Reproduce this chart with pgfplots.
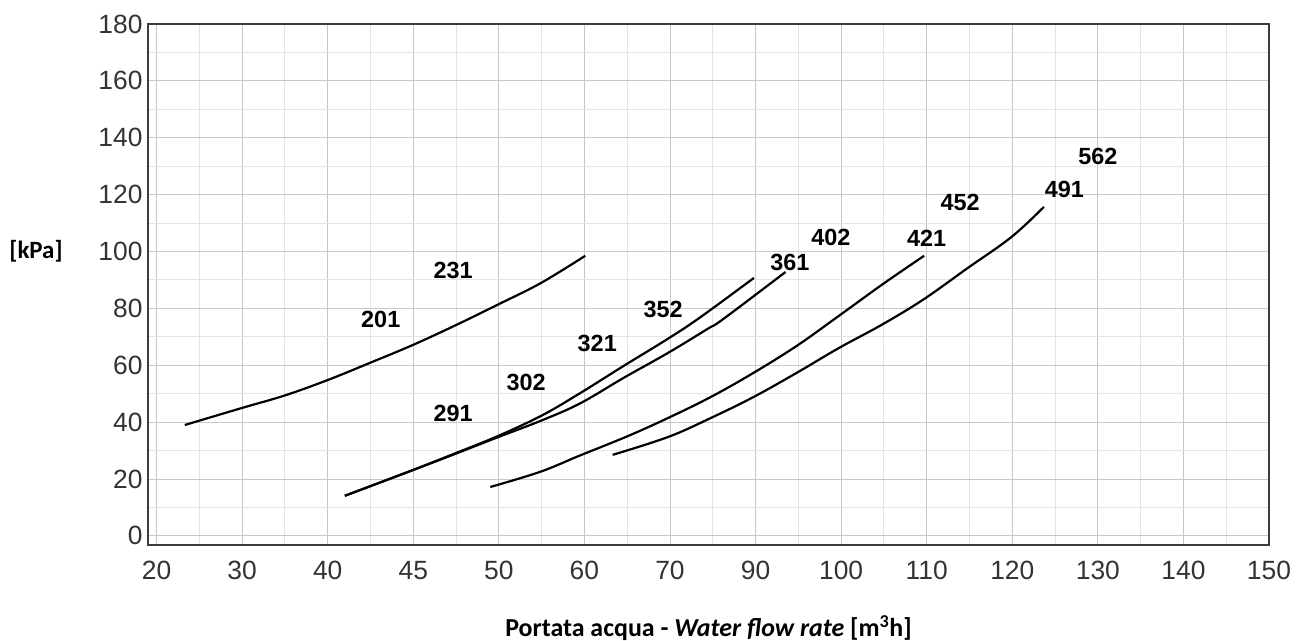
\documentclass[border=0pt]{standalone}
\usepackage{pgfplots}
\pgfplotsset{compat=1.18}
\usepackage{fontspec}
\setmainfont{Liberation Sans}
\newfontfamily\labfont{Carlito}

\definecolor{axgray}{HTML}{3C3C3C}
\definecolor{tickgray}{HTML}{333333}
\definecolor{gridmaj}{HTML}{C8C8C8}
\definecolor{gridmin}{HTML}{E4E4E4}

\pgfplotsset{curve/.style={black, line width=2.2bp, smooth, tension=0.6, mark=none}}

\begin{document}
\begin{tikzpicture}
\useasboundingbox (-148bp,-96bp) rectangle (1148bp,545bp);
\begin{axis}[
    at={(0,0)}, anchor=south west,
    scale only axis,
    width=1121bp, height=521bp,
    xmin=-0.1, xmax=13,
    ymin=-3.2, ymax=180,
    xtick={0,...,13},
    xticklabels={20,30,40,45,50,60,70,90,100,110,120,130,140,150},
    ytick={0,20,...,180},
    minor x tick num=1,
    minor y tick num=1,
    grid=both,
    major grid style={gridmaj, line width=0.9bp},
    minor grid style={gridmin, line width=0.9bp},
    major tick length=0pt, minor tick length=0pt,
    axis line style={axgray, line width=2.2bp},
    /pgf/number format/assume math mode=true,
    tick label style={font=\fontsize{26.5}{26.5}\selectfont, text=tickgray},
    xticklabel style={yshift=-13bp},
    yticklabel style={xshift=-2bp},
    xlabel={Portata acqua - \textit{Water flow rate} [m\textsuperscript{3}h]},
    xlabel style={font=\labfont\bfseries\fontsize{26}{26}\selectfont,
        at={(axis description cs:0.5,-0.159)}, anchor=center},
    ylabel={[kPa]},
    ylabel style={font=\labfont\bfseries\fontsize{25}{25}\selectfont, rotate=-90,
        at={(axis description cs:-0.0999,0.563)}, anchor=center},
    clip=false,
]
% 201 / 231
\addplot[curve] coordinates {(0.33,39) (1.0,45) (1.5,49.4) (2.0,54.8) (2.49,60.8) (3.0,67.2)
    (3.49,74.0) (3.98,81.2) (4.49,88.9) (5.01,98.5)};
% 291 / 302 / 321 / 352
\addplot[curve] coordinates {(2.2,14.1) (3.0,23.2) (3.47,28.8) (3.98,35.0) (4.5,42.3)
    (4.95,50.2) (5.46,59.8) (5.98,69.4) (6.36,77) (6.98,90.7)};
% 361 / 402
\addplot[curve] coordinates {(2.2,14.1) (3.0,23.2) (3.47,28.6) (3.98,34.6) (4.5,40.6)
    (4.95,46.6) (5.46,55.6) (5.98,64.4) (6.44,72.8) (6.62,76.2) (7.35,92.8)};
% 421 / 452
\addplot[curve] coordinates {(3.9,17.2) (4.48,22.5) (4.95,28.3) (5.5,35) (5.98,41.5)
    (6.48,48.9) (6.98,57.4) (7.49,67.0) (7.97,77.3) (8.49,88.6) (8.97,98.5)};
% 491 / 562
\addplot[curve] coordinates {(5.33,28.5) (5.98,34.8) (6.48,41.5) (6.98,48.9) (7.49,57.5)
    (7.97,66) (8.49,74.5) (8.97,83.3) (9.47,94.0) (9.99,105.1) (10.37,115.7)};

\begin{scope}[every node/.style={font=\bfseries\fontsize{23.5}{23.5}\selectfont}]
\node at (axis cs:2.62,76.1) {201};
\node at (axis cs:3.466,93.5) {231};
\node at (axis cs:3.466,42.9) {291};
\node at (axis cs:4.32,54.1) {302};
\node at (axis cs:5.15,67.8) {321};
\node at (axis cs:5.92,79.5) {352};
\node at (axis cs:7.4,96.3) {361};
\node at (axis cs:7.88,104.8) {402};
\node at (axis cs:9.0,104.8) {421};
\node at (axis cs:9.39,117.4) {452};
\node at (axis cs:10.61,121.7) {491};
\node at (axis cs:11.0,133.3) {562};
\end{scope}
\end{axis}
\end{tikzpicture}
\end{document}
